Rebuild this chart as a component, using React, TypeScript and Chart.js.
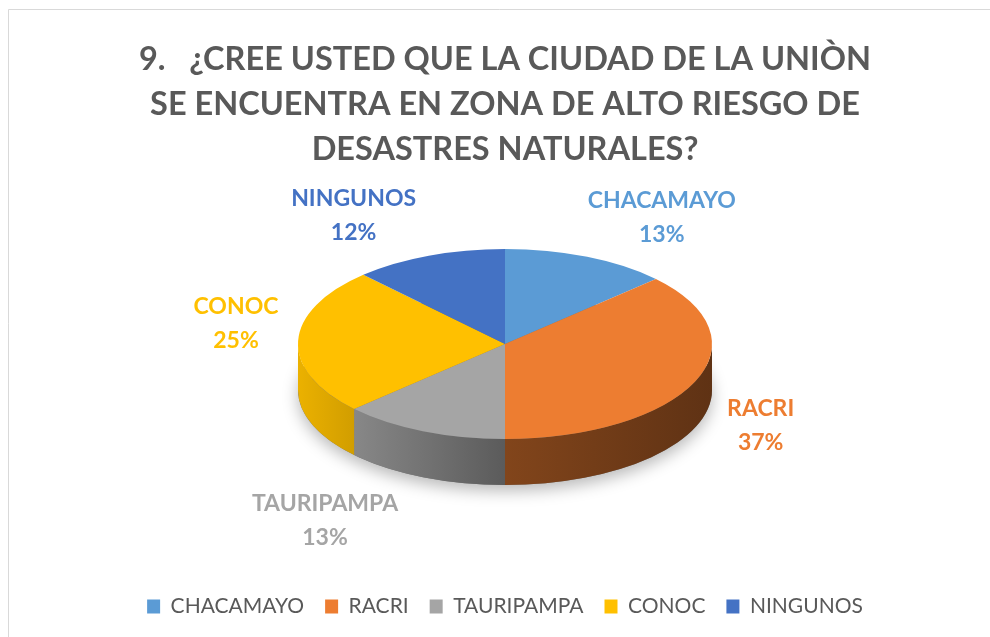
import React, { useEffect, useRef } from "react";
import { Chart, registerables } from "chart.js";

Chart.register(...registerables);

const categories = ["CHACAMAYO", "RACRI", "TAURIPAMPA", "CONOC", "NINGUNOS"];
const values = [13, 37, 13, 25, 12];
const colors = ["#5B9BD5", "#ED7D31", "#A5A5A5", "#FFC000", "#4472C4"];
const titleLines = [
  "9.   ¿CREE USTED QUE LA CIUDAD DE LA UNIÒN",
  "SE ENCUENTRA EN ZONA DE ALTO RIESGO DE",
  "DESASTRES NATURALES?",
];

const W = 990;
const H = 637;
const RADIUS = 207;
const TILT = 0.459;
const DEPTH = 46;
const FONT = "Lato, 'Open Sans', sans-serif";

function shade(hex: string, f: number) {
  const n = parseInt(hex.slice(1), 16);
  const r = Math.round(((n >> 16) & 255) * f);
  const g = Math.round(((n >> 8) & 255) * f);
  const b = Math.round((n & 255) * f);
  return `rgb(${r},${g},${b})`;
}

const pie3d = {
  id: "pie3d",
  beforeDraw(chart: any) {
    const ctx = chart.ctx;
    ctx.save();
    ctx.fillStyle = "#ffffff";
    ctx.fillRect(0, 0, W, H);
    ctx.strokeStyle = "#D9D9D9";
    ctx.lineWidth = 1;
    ctx.beginPath();
    ctx.moveTo(8.5, H);
    ctx.lineTo(8.5, 9.5);
    ctx.lineTo(W, 9.5);
    ctx.stroke();
    ctx.restore();
  },
  beforeDatasetsDraw(chart: any) {
    const ctx = chart.ctx;
    const arcs = chart.getDatasetMeta(0).data;
    const { x: cx, y: cy, outerRadius: R } = arcs[0];
    const ry = R * TILT;
    ctx.save();
    // soft shadow under the pie
    ctx.shadowColor = "rgba(0,0,0,0.28)";
    ctx.shadowBlur = 16;
    ctx.shadowOffsetY = 6;
    ctx.fillStyle = "#777";
    ctx.beginPath();
    ctx.ellipse(cx, cy + DEPTH, R, ry, 0, 0, Math.PI * 2);
    ctx.fill();
    ctx.shadowColor = "transparent";
    ctx.shadowBlur = 0;
    ctx.shadowOffsetY = 0;
    // outer walls (front half only)
    arcs.forEach((arc: any, i: number) => {
      const a = Math.max(arc.startAngle, 0);
      const b = Math.min(arc.endAngle, Math.PI);
      if (a >= b) return;
      const base = colors[i];
      const grad = ctx.createLinearGradient(cx - R, 0, cx + R, 0);
      grad.addColorStop(0, shade(base, 0.92));
      grad.addColorStop(0.5, shade(base, 0.55));
      grad.addColorStop(1, shade(base, 0.4));
      ctx.fillStyle = grad;
      ctx.beginPath();
      ctx.ellipse(cx, cy, R, ry, 0, a, b, false);
      ctx.lineTo(cx + R * Math.cos(b), cy + ry * Math.sin(b) + DEPTH);
      ctx.ellipse(cx, cy + DEPTH, R, ry, 0, b, a, true);
      ctx.closePath();
      ctx.fill();
    });
    ctx.restore();
    // flatten the top surface
    ctx.save();
    ctx.translate(cx, cy);
    ctx.scale(1, TILT);
    ctx.translate(-cx, -cy);
  },
  afterDatasetsDraw(chart: any) {
    const ctx = chart.ctx;
    ctx.restore();
    const arcs = chart.getDatasetMeta(0).data;
    const { x: cx, y: cy, outerRadius: R } = arcs[0];
    const ry = R * TILT;
    const total = values.reduce((s, v) => s + v, 0);
    ctx.save();
    ctx.textAlign = "center";
    ctx.textBaseline = "middle";
    ctx.font = `bold 23px ${FONT}`;
    arcs.forEach((arc: any, i: number) => {
      const mid = (arc.startAngle + arc.endAngle) / 2;
      const ux = Math.cos(mid);
      const up = -Math.sin(mid);
      const below = up < 0 ? Math.pow(-up, 3) : 0;
      const x =
        cx + Math.sign(ux) * (0.4 * R + 0.9 * R * Math.abs(ux) + 30 * below);
      const y =
        up > 0
          ? cy - (17 + 1.26 * ry * up)
          : cy + 8 + (1.26 * ry + 1.4 * DEPTH) * Math.abs(up);
      ctx.fillStyle = colors[i];
      ctx.fillText(categories[i], x, y - 17);
      ctx.fillText(`${Math.round((values[i] / total) * 100)}%`, x, y + 17);
    });
    ctx.restore();
  },
};

export default function App() {
  const ref = useRef<HTMLCanvasElement | null>(null);
  useEffect(() => {
    const canvas = ref.current!;
    const chart = new Chart(canvas, {
      type: "pie",
      data: {
        labels: categories,
        datasets: [
          {
            data: values,
            backgroundColor: colors,
            borderWidth: 0,
            radius: RADIUS,
            clip: false,
          } as any,
        ],
      },
      options: {
        responsive: false,
        animation: false,
        events: [],
        layout: { padding: { left: 20, right: 0, top: 0, bottom: 10 } },
        plugins: {
          title: {
            display: true,
            text: titleLines,
            color: "#595959",
            font: { family: FONT, size: 32.5, weight: "bold", lineHeight: 45 / 32.5 },
            padding: { top: 37, bottom: -59 },
          },
          legend: {
            position: "bottom",
            labels: {
              boxWidth: 13,
              boxHeight: 14,
              color: "#595959",
              font: { family: FONT, size: 21 },
              padding: 21,
            },
          },
          tooltip: { enabled: false },
        },
      },
      plugins: [pie3d],
    });
    return () => chart.destroy();
  }, []);
  return (
    <div style={{ position: "fixed", left: 0, top: 0, width: W, height: H, overflow: "hidden" }}>
      <canvas ref={ref} width={W} height={H} style={{ width: W, height: H, display: "block" }} />
    </div>
  );
}
